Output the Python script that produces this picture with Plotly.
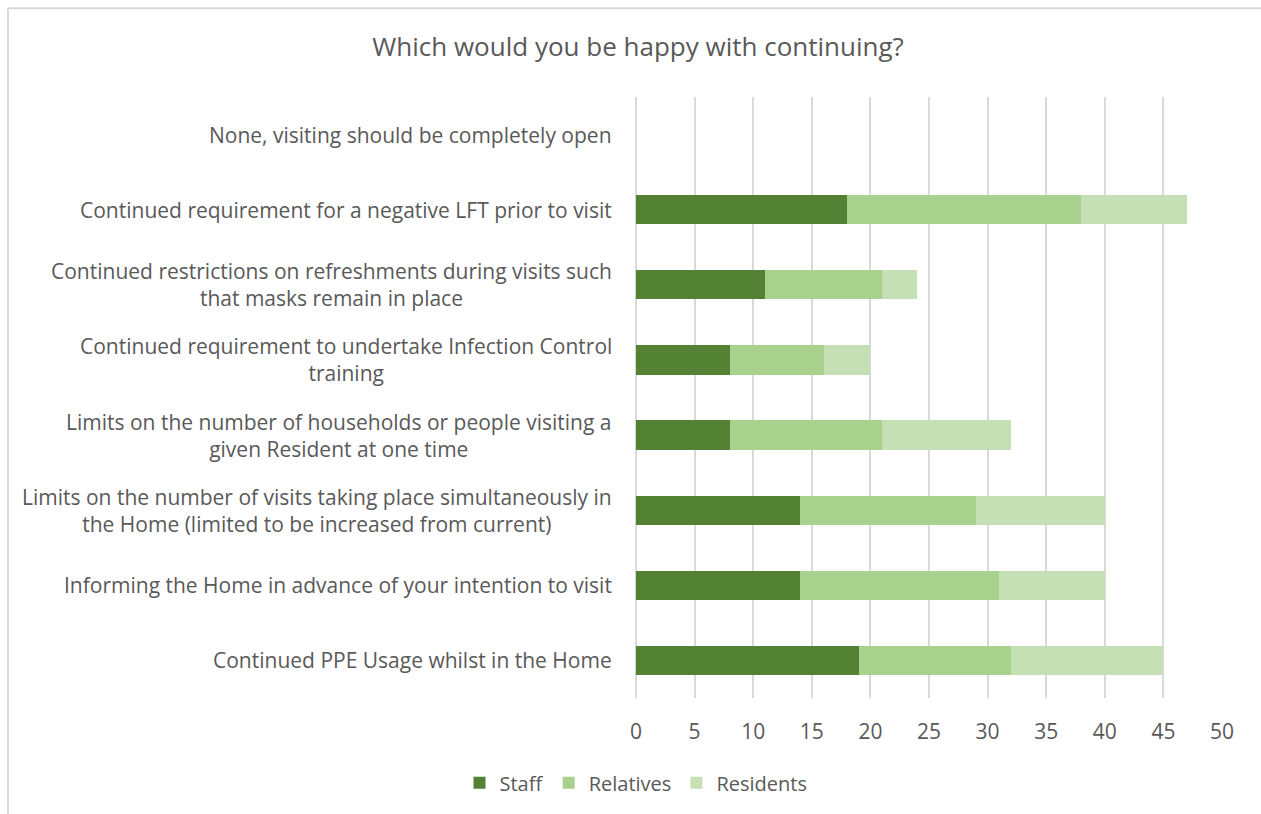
import plotly.graph_objects as go

categories = [
    "None, visiting should be completely open",
    "Continued requirement for a negative LFT prior to visit",
    "Continued restrictions on refreshments during visits such<br>that masks remain in place",
    "Continued requirement to undertake Infection Control<br>training",
    "Limits on the number of households or people visiting a<br>given Resident at one time",
    "Limits on the number of visits taking place simultaneously in<br>the Home (limited to be increased from current)",
    "Informing the Home in advance of your intention to visit",
    "Continued PPE Usage whilst in the Home",
]
staff = [0, 18, 11, 8, 8, 14, 14, 19]
relatives = [0, 20, 10, 8, 13, 15, 17, 13]
residents = [0, 9, 3, 4, 11, 11, 9, 13]
x_ticks = [0, 5, 10, 15, 20, 25, 30, 35, 40, 45, 50]

TEXT = "#595959"
FONT = "Open Sans"

fig = go.Figure()
for name, vals, col in [("Staff", staff, "#548235"),
                        ("Relatives", relatives, "#A9D18E"),
                        ("Residents", residents, "#C5E0B4")]:
    fig.add_trace(go.Bar(y=categories, x=vals, name=name, orientation="h",
                         marker=dict(color=col, line=dict(width=0))))

W, H = 1261, 814
L, R, T, B = 636, 1222, 97, 700

def px(x):
    return (x - L) / (R - L)

def py(y):
    return (B - y) / (B - T)

n = len(categories)
annotations = [
    dict(text=c, xref="paper", yref="paper", x=px(614), y=1 - (i + 0.5) / n,
         xanchor="right", yanchor="middle",
         align="center", showarrow=False, font=dict(size=21, color=TEXT, family=FONT))
    for i, c in enumerate(categories)
]

fig.update_layout(
    width=W, height=H,
    barmode="stack", bargap=0.61,
    paper_bgcolor="white", plot_bgcolor="white",
    margin=dict(l=L, r=W - R, t=T, b=H - B, pad=0),
    font=dict(family=FONT, color=TEXT, size=21),
    title=dict(text="Which would you be happy with continuing?", x=0.506, xanchor="center",
               y=1 - 47 / H, yanchor="middle", font=dict(size=26, color=TEXT, family=FONT)),
    legend=dict(orientation="h", x=px(636), xanchor="center", y=py(785), yanchor="middle",
                font=dict(size=20, color=TEXT), traceorder="normal", itemwidth=30),
    xaxis=dict(range=[0, 50], tickvals=x_ticks, showgrid=True, gridcolor="#d9d9d9",
               gridwidth=1.5, zeroline=True, zerolinecolor="#d9d9d9", zerolinewidth=1.5,
               showline=False, ticks="",
               tickfont=dict(size=21, color=TEXT), ticklabelstandoff=19),
    yaxis=dict(type="category", autorange="reversed", showgrid=False, zeroline=False,
               showline=False, ticks="", showticklabels=False),
    annotations=annotations,
    shapes=[
        dict(type="line", xref="paper", yref="paper", x0=px(8), x1=px(1300), y0=py(8), y1=py(8),
             line=dict(color="#d9d9d9", width=2)),
        dict(type="line", xref="paper", yref="paper", x0=px(8), x1=px(8), y0=py(8), y1=py(900),
             line=dict(color="#d9d9d9", width=2)),
    ],
)

fig.write_html("out.html")
